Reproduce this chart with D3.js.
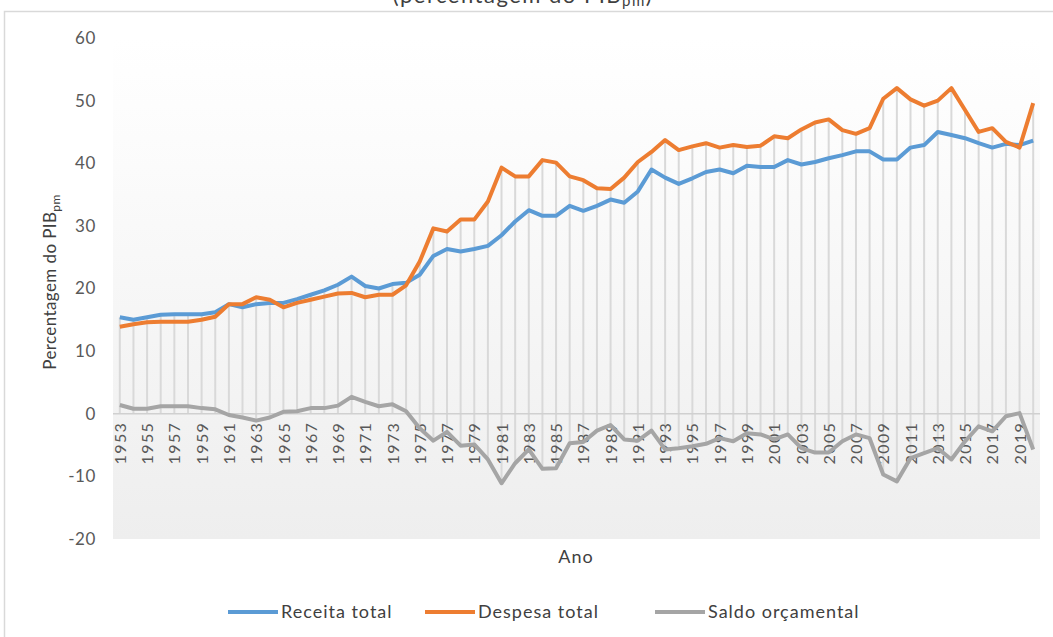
<!DOCTYPE html>
<html>
<head>
<meta charset="utf-8">
<script src="https://cdn.jsdelivr.net/npm/d3@7"></script>
<style>
  body { margin: 0; background: #fff; }
  svg { display: block; font-family: Lato, "Open Sans", sans-serif; }
</style>
</head>
<body>
<svg id="chart"></svg>
<script>
// anos (categorias)
const years = [1953,1954,1955,1956,1957,1958,1959,1960,1961,1962,
  1963,1964,1965,1966,1967,1968,1969,1970,1971,1972,
  1973,1974,1975,1976,1977,1978,1979,1980,1981,1982,
  1983,1984,1985,1986,1987,1988,1989,1990,1991,1992,
  1993,1994,1995,1996,1997,1998,1999,2000,2001,2002,
  2003,2004,2005,2006,2007,2008,2009,2010,2011,2012,
  2013,2014,2015,2016,2017,2018,2019,2020];

const receita = [15.4,15.0,15.4,15.8,15.9,15.9,15.9,16.2,17.5,17.0,
  17.5,17.7,17.7,18.3,19.0,19.7,20.6,21.9,20.4,20.0,
  20.7,20.9,22.2,25.2,26.3,25.9,26.3,26.8,28.5,30.7,
  32.5,31.6,31.6,33.2,32.4,33.2,34.2,33.7,35.5,39.0,
  37.7,36.7,37.6,38.6,39.0,38.4,39.6,39.4,39.4,40.5,
  39.8,40.2,40.8,41.3,41.9,41.9,40.6,40.6,42.5,42.9,
  45.0,44.5,44.0,43.2,42.5,43.1,42.9,43.6];

const despesa = [13.9,14.3,14.6,14.7,14.7,14.7,15.0,15.5,17.5,17.5,
  18.6,18.2,17.0,17.7,18.2,18.7,19.2,19.3,18.6,19.0,
  19.0,20.5,24.3,29.6,29.1,31.0,31.0,33.9,39.3,37.9,
  37.9,40.5,40.1,37.9,37.3,36.0,35.9,37.7,40.2,41.8,
  43.7,42.1,42.7,43.2,42.5,42.9,42.6,42.8,44.3,44.0,
  45.4,46.5,47.0,45.3,44.7,45.6,50.3,52.0,50.2,49.2,
  50.0,52.0,48.5,45.0,45.6,43.4,42.5,49.6];

const saldo = [1.4,0.8,0.8,1.2,1.2,1.2,0.9,0.7,-0.2,-0.6,
  -1.1,-0.6,0.3,0.4,0.9,0.9,1.3,2.7,1.9,1.2,
  1.5,0.4,-2.3,-4.3,-2.9,-5.1,-4.9,-7.3,-11.1,-7.9,
  -5.7,-8.8,-8.7,-4.7,-4.5,-2.7,-1.8,-4.1,-4.3,-2.7,
  -5.7,-5.5,-5.2,-4.8,-3.9,-4.4,-3.1,-3.3,-4.1,-3.3,
  -5.5,-6.2,-6.2,-4.4,-3.3,-3.9,-9.7,-10.8,-7.1,-6.3,
  -5.5,-7.3,-4.4,-2.0,-2.8,-0.4,0.1,-5.7];

const yTicks = [-20,-10,0,10,20,30,40,50,60];

const series = [
  { name: 'Receita total', values: receita, color: '#5B9BD5' },
  { name: 'Despesa total', values: despesa, color: '#ED7D31' },
  { name: 'Saldo orçamental', values: saldo, color: '#A5A5A5' }
];

const width = 1053, height = 637;
const plot = { left: 113, right: 1040, top: 38, bottom: 539 };

const svg = d3.select('#chart').attr('width', width).attr('height', height);

const defs = svg.append('defs');
const grad = defs.append('linearGradient')
    .attr('id', 'bg').attr('x1', 0).attr('y1', 0).attr('x2', 0).attr('y2', 1);
grad.append('stop').attr('offset', '0%').attr('stop-color', '#ffffff');
grad.append('stop').attr('offset', '20%').attr('stop-color', '#fcfcfc');
grad.append('stop').attr('offset', '100%').attr('stop-color', '#eeeeee');

// moldura do gráfico
svg.append('rect')
    .attr('x', 4.5).attr('y', 11.5)
    .attr('width', 1060).attr('height', 640)
    .attr('fill', 'none').attr('stroke', '#d9d9d9').attr('stroke-width', 1.5);

// título (cortado no topo, como no original)
const title = svg.append('text')
    .attr('x', 523).attr('y', 3)
    .attr('text-anchor', 'middle')
    .attr('font-size', 22).attr('letter-spacing', 1.5).attr('fill', '#404040')
    .text('(percentagem do PIB');
title.append('tspan').attr('font-size', 15).attr('dy', 3).text('pm');
title.append('tspan').attr('dy', -3).text(')');

const x = d3.scalePoint()
    .domain(years)
    .range([plot.left, plot.right])
    .padding(0.5);

const y = d3.scaleLinear()
    .domain([-20, 60])
    .range([plot.bottom, plot.top]);

svg.append('rect')
    .attr('x', plot.left).attr('y', y(60))
    .attr('width', plot.right - plot.left).attr('height', y(-20) - y(60))
    .attr('fill', 'url(#bg)');

// eixo Y
const yAxis = svg.append('g')
    .attr('transform', `translate(${plot.left - 17},0)`)
    .call(d3.axisLeft(y).tickValues(yTicks).tickFormat(d => String(d)).tickSize(0).tickPadding(0));
yAxis.select('.domain').remove();
yAxis.selectAll('text')
    .attr('font-family', 'Lato, sans-serif')
    .attr('font-size', 17).attr('letter-spacing', 0.6).attr('fill', '#595959');

// linhas de referência verticais
const rows = years.map((yr, i) => ({
  year: yr,
  hi: d3.max(series, s => s.values[i]),
  lo: Math.min(0, d3.min(series, s => s.values[i]))
}));
svg.append('g').selectAll('line').data(rows).join('line')
    .attr('x1', d => x(d.year)).attr('x2', d => x(d.year))
    .attr('y1', d => y(d.hi)).attr('y2', d => y(d.lo))
    .attr('stroke', '#d9d9d9').attr('stroke-width', 2);

// linha do zero
svg.append('line')
    .attr('x1', plot.left).attr('x2', plot.right)
    .attr('y1', y(0)).attr('y2', y(0))
    .attr('stroke', '#d0d0d0').attr('stroke-width', 1.5);

// eixo X (anos ímpares)
const xAxis = svg.append('g')
    .attr('transform', `translate(0,${y(0) + 8})`)
    .call(d3.axisBottom(x).tickValues(years.filter(v => v % 2 === 1)).tickSize(0).tickPadding(0));
xAxis.select('.domain').remove();
xAxis.selectAll('text')
    .attr('font-family', 'Lato, sans-serif')
    .attr('font-size', 16).attr('letter-spacing', 1.4).attr('fill', '#595959')
    .attr('text-anchor', 'end')
    .attr('transform', 'rotate(-90)')
    .attr('x', 0).attr('y', 0).attr('dy', '0.35em');

// séries
const line = d3.line()
    .x((d, i) => x(years[i]))
    .y(d => y(d));

svg.append('g').selectAll('path').data(series).join('path')
    .attr('d', d => line(d.values))
    .attr('fill', 'none')
    .attr('stroke', d => d.color)
    .attr('stroke-width', 4)
    .attr('stroke-linejoin', 'round');

// títulos dos eixos
svg.append('text')
    .attr('x', 576).attr('y', 563)
    .attr('text-anchor', 'middle')
    .attr('font-size', 18).attr('letter-spacing', 1).attr('fill', '#404040')
    .text('Ano');

const yTitle = svg.append('text')
    .attr('transform', 'translate(56,282) rotate(-90)')
    .attr('text-anchor', 'middle')
    .attr('font-size', 17).attr('letter-spacing', 0.4).attr('fill', '#404040')
    .text('Percentagem do PIB');
yTitle.append('tspan').attr('font-size', 12).attr('dy', 4).text('pm');

// legenda
const legendX = [228, 425, 655];
const legend = svg.append('g').selectAll('g').data(series).join('g')
    .attr('transform', (d, i) => `translate(${legendX[i]},612)`);
legend.append('line')
    .attr('x1', 0).attr('x2', 50)
    .attr('stroke', d => d.color).attr('stroke-width', 4);
legend.append('text')
    .attr('x', 53).attr('dy', '0.35em')
    .attr('font-size', 18).attr('letter-spacing', 1).attr('fill', '#404040')
    .text(d => d.name);
</script>
</body>
</html>
